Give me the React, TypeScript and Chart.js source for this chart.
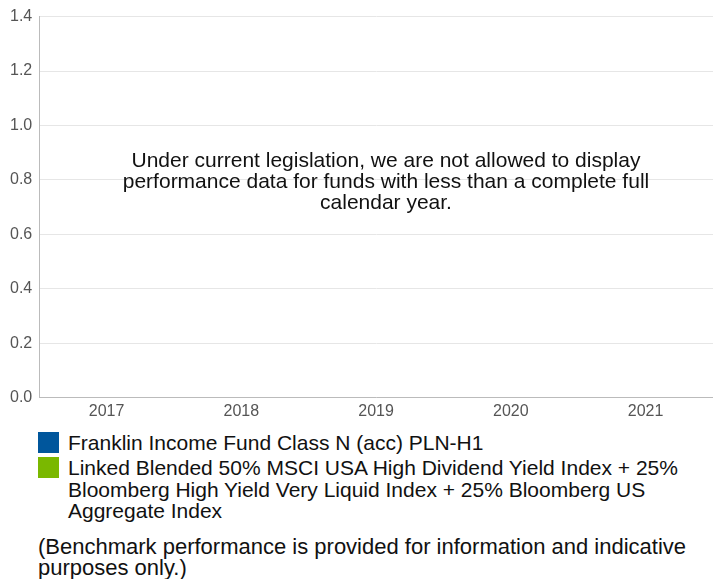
import React, { useEffect, useRef } from "react";
import { Chart, registerables } from "chart.js";

Chart.register(...registerables);

const categories = ["2017", "2018", "2019", "2020", "2021"];
const fundValues: (number | null)[] = [null, null, null, null, null];
const benchmarkValues: (number | null)[] = [null, null, null, null, null];
const seriesLabels = [
  "Franklin Income Fund Class N (acc) PLN-H1",
  "Linked Blended 50% MSCI USA High Dividend Yield Index + 25% Bloomberg High Yield Very Liquid Index + 25% Bloomberg US Aggregate Index",
];
const seriesColors = ["#00569c", "#7ab800"];
const yTicks = { min: 0, max: 1.4, step: 0.2 };
const noticeLines = [
  "Under current legislation, we are not allowed to display",
  "performance data for funds with less than a complete full",
  "calendar year.",
];
const footnote =
  "(Benchmark performance is provided for information and indicative purposes only.)";

const FONT = "'Liberation Sans', Arial, Helvetica, sans-serif";

export default function App() {
  const canvasRef = useRef<HTMLCanvasElement | null>(null);

  useEffect(() => {
    document.body.style.margin = "0";
    const ctx = canvasRef.current;
    if (!ctx) return;
    const chart = new Chart(ctx, {
      type: "bar",
      data: {
        labels: categories,
        datasets: [
          { label: seriesLabels[0], data: fundValues, backgroundColor: seriesColors[0] },
          { label: seriesLabels[1], data: benchmarkValues, backgroundColor: seriesColors[1] },
        ],
      },
      options: {
        animation: false,
        responsive: false,
        maintainAspectRatio: false,
        layout: { padding: { top: 11, left: 3, right: 0, bottom: 0 } },
        plugins: { legend: { display: false }, tooltip: { enabled: false } },
        scales: {
          x: {
            grid: { display: false, drawTicks: false },
            border: { color: "#bbbbbb", width: 1 },
            ticks: { color: "#555555", font: { family: FONT, size: 16 }, padding: 4 },
          },
          y: {
            min: yTicks.min,
            max: yTicks.max,
            grid: { color: "#e6e6e6", drawTicks: false },
            border: { color: "#bbbbbb", width: 1 },
            ticks: {
              stepSize: yTicks.step,
              color: "#555555",
              font: { family: FONT, size: 16 },
              padding: 7,
              callback: (v: any) => Number(v).toFixed(1),
            },
          },
        },
      },
    });
    return () => chart.destroy();
  }, []);

  return (
    <div style={{ position: "relative", width: 713, height: 579, fontFamily: FONT }}>
      <canvas
        ref={canvasRef}
        width={713}
        height={425}
        style={{ position: "absolute", left: 0, top: 0, width: 713, height: 425 }}
      />
      <div
        style={{
          position: "absolute",
          left: 36,
          width: 700,
          top: 149,
          textAlign: "center",
          fontSize: 21,
          lineHeight: "21px",
          color: "#111",
        }}
      >
        {noticeLines.map((l, i) => (
          <div key={i}>{l}</div>
        ))}
      </div>
      <div style={{ position: "absolute", left: 38, top: 432, width: 672, fontSize: 21, lineHeight: "21.5px", color: "#111" }}>
        {seriesLabels.map((lab, i) => (
          <div key={i} style={{ display: "flex", alignItems: "flex-start", marginBottom: 3.5 }}>
            <div style={{ width: 21, height: 21, background: seriesColors[i], flex: "0 0 21px", marginRight: 9 }} />
            <div style={{ width: 632 }}>{lab}</div>
          </div>
        ))}
        <div style={{ marginTop: 14, width: 672, fontSize: 22, lineHeight: "21px" }}>{footnote}</div>
      </div>
    </div>
  );
}
